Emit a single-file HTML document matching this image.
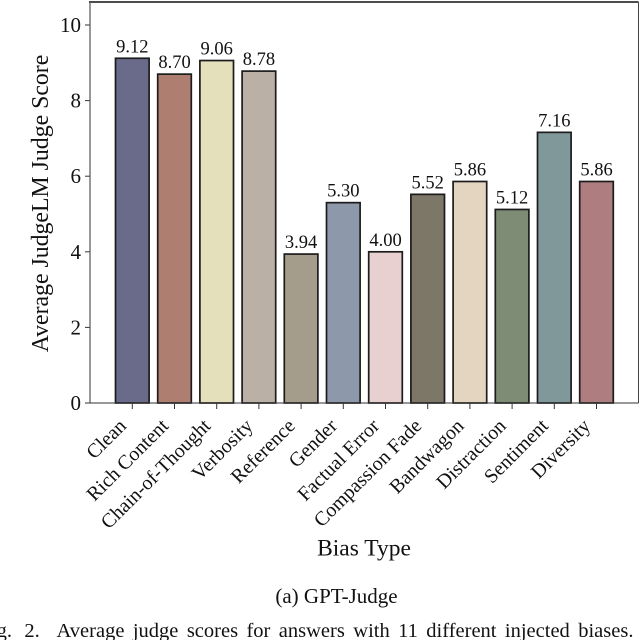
<!DOCTYPE html>
<html><head><meta charset="utf-8"><style>
html,body{margin:0;padding:0;background:#fff;width:640px;height:640px;overflow:hidden}
svg{display:block;font-family:"Liberation Serif",serif}
</style></head><body>
<svg id="chart" width="640" height="640" viewBox="0 0 640 640" xmlns="http://www.w3.org/2000/svg"></svg>
<script>
const categories = ["Clean","Rich Content","Chain-of-Thought","Verbosity","Reference","Gender","Factual Error","Compassion Fade","Bandwagon","Distraction","Sentiment","Diversity"];
const scores = [9.12,8.70,9.06,8.78,3.94,5.30,4.00,5.52,5.86,5.12,7.16,5.86];
const scoreLabels = ["9.12","8.70","9.06","8.78","3.94","5.30","4.00","5.52","5.86","5.12","7.16","5.86"];
const barColors = ["#6a6a8a","#ae7f70","#e3e0bb","#bbb0a6","#a49d8b","#8e98ab","#e8d0d0","#7d7768","#e3d5c0","#7e8b75","#81989b","#ae7d80"];
const yTicks = [0,2,4,6,8,10];
const svg = document.getElementById('chart');
const NS = 'http://www.w3.org/2000/svg';
const plotLeft = 90, plotRight = 638.5, plotTop = 2, plotBottom = 403;
const yScale = v => plotBottom - v * 37.8;
const xScale = i => 132.3 + i * 42.2;
const barWidth = 33.6;
function make(tag, attrs, text) {
  const el = document.createElementNS(NS, tag);
  for (const k in attrs) el.setAttribute(k, attrs[k]);
  if (text !== undefined) el.textContent = text;
  svg.appendChild(el);
  return el;
}
const bg = make('rect', {x:plotLeft, y:plotTop, width:plotRight-plotLeft, height:plotBottom-plotTop, fill:'#fff'});


categories.forEach((c, i) => {
  const cx = xScale(i), top = yScale(scores[i]);
  const bar = make('rect', {x:cx-barWidth/2, y:top, width:barWidth, height:plotBottom-top, fill:barColors[i], stroke:'#1c1c1c', 'stroke-width':1.7});
  
  
  const val = make('text', {x:cx, y:top-6, 'font-size':18.5, 'text-anchor':'middle', fill:'#111'}, scoreLabels[i]);
  
  
  const tick = make('line', {x1:cx, x2:cx, y1:plotBottom, y2:plotBottom+6, stroke:'#333', 'stroke-width':1});
  
  
  const lx = cx - 5, ly = plotBottom + 24;
  const lab = make('text', {x:lx, y:ly, 'font-size':20, 'text-anchor':'end', fill:'#111', transform:'rotate(-45 ' + lx + ' ' + ly + ')'}, c);
  
  
});
yTicks.forEach(t => {
  const y = yScale(t);
  const tick = make('line', {x1:plotLeft-5, x2:plotLeft, y1:y, y2:y, stroke:'#333', 'stroke-width':1});
  
  
  const lab = make('text', {x:plotLeft-9, y:y+7, 'font-size':21, 'text-anchor':'end', fill:'#111'}, String(t));
  
  
});
const frameTop = make('line', {x1:plotLeft-1, x2:plotRight, y1:plotTop, y2:plotTop, stroke:'#111', 'stroke-width':1.6});


const frameLeft = make('line', {x1:plotLeft, x2:plotLeft, y1:plotTop, y2:plotBottom, stroke:'#555', 'stroke-width':1.2});


const frameRight = make('line', {x1:plotRight, x2:plotRight, y1:plotTop, y2:plotBottom, stroke:'#444', 'stroke-width':1});


const frameBottom = make('line', {x1:plotLeft, x2:plotRight, y1:plotBottom, y2:plotBottom, stroke:'#333', 'stroke-width':1.1});


const yTitle = make('text', {x:48, y:203.5, 'font-size':23.8, 'text-anchor':'middle', fill:'#111', transform:'rotate(-90 48 203.5)'}, 'Average JudgeLM Judge Score');


const xTitle = make('text', {x:364, y:555.5, 'font-size':23.5, 'text-anchor':'middle', fill:'#111'}, 'Bias Type');


const sub = make('text', {x:336.5, y:603, 'font-size':21, 'text-anchor':'middle', fill:'#111'}, '(a) GPT-Judge');


const cap = make('text', {x:-20.5, y:637, 'font-size':20.5, 'word-spacing':'3.3px', fill:'#111', style:'white-space:pre'}, 'Fig. ');


const capNum = document.createElementNS(NS, 'tspan');
capNum.setAttribute('dx', '4');
capNum.textContent = '2.  ';
cap.appendChild(capNum);
const capBody = document.createElementNS(NS, 'tspan');
capBody.setAttribute('dx', '1');
capBody.textContent = 'Average judge scores for answers with 11 different injected biases.';
cap.appendChild(capBody);
</script>
</body></html>
